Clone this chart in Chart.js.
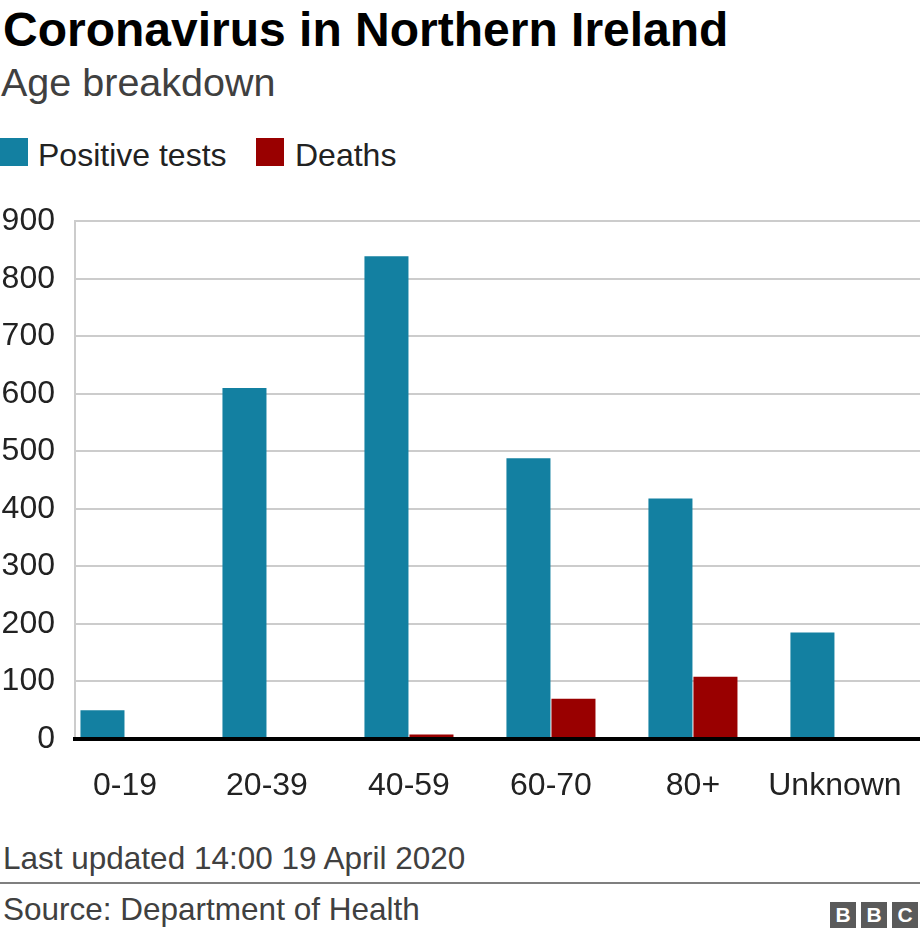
<!DOCTYPE html>
<html>
<head>
<meta charset="utf-8">
<script src="https://cdn.jsdelivr.net/npm/chart.js@4.4.1/dist/chart.umd.min.js"></script>
<style>
  html, body { margin: 0; padding: 0; background: #fff; }
  body { width: 920px; height: 938px; position: relative; overflow: hidden;
         font-family: "Liberation Sans", Arial, Helvetica, sans-serif; }
  .abs { position: absolute; white-space: nowrap; line-height: 1; }
  #title { left: 3px; top: 6px; font-size: 48px; font-weight: bold; color: #000; }
  #subtitle { left: 1px; top: 63px; font-size: 39.5px; color: #404040; }
  .leg-box { position: absolute; width: 28px; height: 28px; top: 138px; }
  .leg-text { position: absolute; top: 139px; font-size: 32px; line-height: 1; color: #222; white-space: nowrap; }
  #updated { left: 3px; top: 843px; font-size: 31.5px; color: #404040; }
  #rule { position: absolute; left: 0; top: 882px; width: 920px; height: 2px; background: #7f7f7f; }
  #source { left: 3px; top: 894px; font-size: 31.5px; color: #404040; }
  #bbc { position: absolute; left: 830px; top: 902px; height: 26px; }
  #bbc span { display: inline-block; width: 26px; height: 26px; margin-right: 5px; background: #5a5a5a; color: #fff;
              font: bold 21px/26px "Liberation Sans", Arial, sans-serif; text-align: center; vertical-align: top; }
  #chart { position: absolute; left: 0; top: 182px; }
</style>
</head>
<body>
<div id="title" class="abs">Coronavirus in Northern Ireland</div>
<div id="subtitle" class="abs">Age breakdown</div>
<div id="legend"></div>
<canvas id="chart" width="920" height="618"></canvas>
<div id="updated" class="abs">Last updated 14:00 19 April 2020</div>
<div id="rule"></div>
<div id="source" class="abs">Source: Department of Health</div>
<div id="bbc"><span>B</span><span>B</span><span style="margin-right:0">C</span></div>
<script>
const categories = ['0-19', '20-39', '40-59', '60-70', '80+', 'Unknown'];
const positiveTests = [50, 610, 839, 488, 418, 185];
const deaths = [0, 0, 8, 70, 108, 0];
const yTicks = [0, 100, 200, 300, 400, 500, 600, 700, 800, 900];
const seriesNames = ['Positive tests', 'Deaths'];
const seriesColors = ['#1380A1', '#990000'];

// HTML legend
const legendEl = document.getElementById('legend');
const legendX = [[0, 38], [256, 295]];
seriesNames.forEach((name, i) => {
  const b = document.createElement('div');
  b.className = 'leg-box';
  b.style.left = legendX[i][0] + 'px';
  b.style.background = seriesColors[i];
  legendEl.appendChild(b);
  const t = document.createElement('div');
  t.className = 'leg-text';
  t.style.left = legendX[i][1] + 'px';
  t.textContent = name;
  legendEl.appendChild(t);
});

const FONT = '"Liberation Sans", Arial, Helvetica, sans-serif';
const toPoints = arr => arr.map((v, i) => ({ x: i, y: v }));

new Chart(document.getElementById('chart'), {
  type: 'bar',
  data: {
    datasets: [
      { label: seriesNames[0], data: toPoints(positiveTests), backgroundColor: seriesColors[0],
        categoryPercentage: 0.634, barPercentage: 0.978 },
      { label: seriesNames[1], data: toPoints(deaths), backgroundColor: seriesColors[1],
        categoryPercentage: 0.634, barPercentage: 0.978 }
    ]
  },
  options: {
    responsive: false,
    devicePixelRatio: 1,
    animation: false,
    layout: { padding: 0 },
    plugins: { legend: { display: false }, tooltip: { enabled: false } },
    scales: {
      x: {
        type: 'linear',
        offset: false,
        min: -0.352,
        max: 5.599,
        grid: { display: false, drawTicks: false, offset: false },
        border: { display: true, color: '#000', width: 4, z: 1 },
        afterBuildTicks: s => { s.ticks = categories.map((c, i) => ({ value: i })); },
        afterFit: s => { s.height = 61; },
        ticks: {
          includeBounds: false,
          autoSkip: false,
          maxRotation: 0,
          minRotation: 0,
          padding: 17,
          color: '#222',
          font: { family: FONT, size: 32, lineHeight: 1.8875 },
          callback: v => categories[v] !== undefined ? categories[v] : ''
        }
      },
      y: {
        min: yTicks[0],
        max: yTicks[yTicks.length - 1],
        afterBuildTicks: s => { s.ticks = yTicks.map(v => ({ value: v })); },
        afterFit: s => { s.width = 75; },
        grid: { color: '#cccccc', lineWidth: 2, drawTicks: false },
        border: { display: true, color: '#cccccc', width: 2 },
        ticks: {
          padding: 20,
          color: '#222',
          font: { family: FONT, size: 32 }
        }
      }
    }
  }
});
</script>
</body>
</html>
